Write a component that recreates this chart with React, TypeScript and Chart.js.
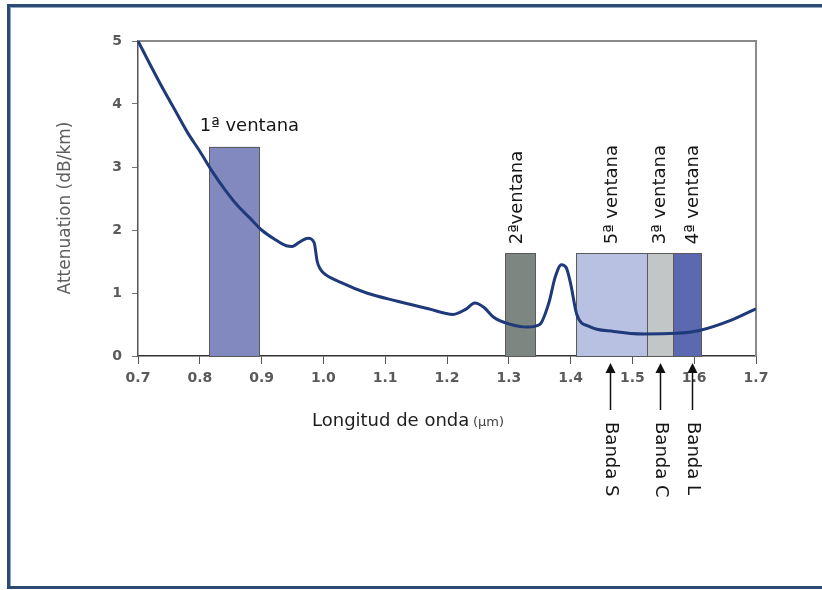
import React, { useEffect, useRef } from "react";
import { Chart, registerables } from "chart.js";

Chart.register(...registerables);

// ---- data ----
const wavelength = [
  0.7, 0.72, 0.74, 0.76, 0.78, 0.8, 0.82, 0.84, 0.86, 0.88, 0.9, 0.92, 0.94, 0.95, 0.96, 0.975,
  0.985, 0.99, 0.995, 1.0, 1.03, 1.07, 1.12, 1.17, 1.21, 1.23, 1.245, 1.26, 1.275, 1.3, 1.33,
  1.35, 1.365, 1.375, 1.385, 1.393, 1.4, 1.41, 1.43, 1.47, 1.52, 1.57, 1.61, 1.66, 1.7,
];
const attenuation = [
  5.0, 4.62, 4.25, 3.9, 3.55, 3.25, 2.93, 2.65, 2.4, 2.2, 2.0, 1.86, 1.75, 1.74, 1.8, 1.87,
  1.8, 1.5, 1.38, 1.32, 1.16, 1.0, 0.87, 0.75, 0.66, 0.74, 0.84, 0.77, 0.62, 0.51, 0.46,
  0.5, 0.85, 1.25, 1.45, 1.4, 1.15, 0.66, 0.47, 0.39, 0.35, 0.36, 0.41, 0.57, 0.75,
];

const xTicks = [0.7, 0.8, 0.9, 1.0, 1.1, 1.2, 1.3, 1.4, 1.5, 1.6, 1.7];
const yTicks = [0, 1, 2, 3, 4, 5];

const windowNames = ["1ª ventana", "2ªventana", "5ª ventana", "3ª ventana", "4ª ventana"];
const windowStart = [0.815, 1.294, 1.409, 1.524, 1.566];
const windowEnd = [0.896, 1.343, 1.524, 1.566, 1.611];
const windowTop = [3.32, 1.63, 1.63, 1.63, 1.63];
const windowLabelAt = [0.8, 1.313, 1.467, 1.546, 1.598];
const windowColors = ["#8189bf", "#7e8682", "#b9c1e3", "#c3c6c6", "#5a69b0"];

const bandNames = ["Banda S", "Banda C", "Banda L"];
const bandAt = [1.464, 1.545, 1.597];

const xTitle = "Longitud de onda";
const xUnit = "(µm)";
const yTitle = "Attenuation (dB/km)";

const FONT = "'DejaVu Sans', 'Liberation Sans', Arial, sans-serif";

const decorPlugin = {
  id: "decor",
  beforeDraw(chart: any) {
    const ctx = chart.ctx;
    ctx.save();
    ctx.fillStyle = "#ffffff";
    ctx.fillRect(0, 0, chart.width, chart.height);
    // frame
    ctx.fillStyle = "#2d4b72";
    ctx.fillRect(7, 4, chart.width - 7, 3);
    ctx.fillRect(7, 4, 3, 585);
    ctx.fillRect(7, 586, chart.width - 7, 3);
    ctx.fillStyle = "#8fa6c4";
    ctx.fillRect(10, 7, chart.width - 10, 1);
    ctx.fillRect(10, 7, 1, 579);
    ctx.restore();
  },
  beforeDatasetsDraw(chart: any) {
    const ctx = chart.ctx;
    const xs = chart.scales.x;
    const ys = chart.scales.y;
    const a = chart.chartArea;
    ctx.save();
    // top and right outline
    ctx.strokeStyle = "#8a8a8a";
    ctx.lineWidth = 2;
    ctx.beginPath();
    ctx.moveTo(a.left, a.top);
    ctx.lineTo(a.right, a.top);
    ctx.lineTo(a.right, a.bottom);
    ctx.stroke();
    // windows
    for (let i = 0; i < windowNames.length; i++) {
      const x0 = xs.getPixelForValue(windowStart[i]);
      const x1 = xs.getPixelForValue(windowEnd[i]);
      const y0 = ys.getPixelForValue(windowTop[i]);
      const y1 = ys.getPixelForValue(0);
      ctx.fillStyle = windowColors[i];
      ctx.fillRect(x0, y0, x1 - x0, y1 - y0);
      ctx.strokeStyle = "#5a5a5a";
      ctx.lineWidth = 1;
      ctx.strokeRect(Math.round(x0) + 0.5, Math.round(y0) + 0.5, Math.round(x1 - x0), Math.round(y1 - y0));
    }
    ctx.restore();
  },
  afterDatasetsDraw(chart: any) {
    const ctx = chart.ctx;
    const xs = chart.scales.x;
    const ys = chart.scales.y;
    const a = chart.chartArea;
    ctx.save();
    ctx.fillStyle = "#161616";
    ctx.font = `18px ${FONT}`;
    // window labels
    for (let i = 0; i < windowNames.length; i++) {
      const lx = xs.getPixelForValue(windowLabelAt[i]);
      const top = ys.getPixelForValue(windowTop[i]);
      if (i === 0) {
        ctx.textAlign = "left";
        ctx.textBaseline = "alphabetic";
        ctx.fillText(windowNames[i], lx, top - 16);
      } else {
        ctx.save();
        ctx.translate(lx, top - 9);
        ctx.rotate(-Math.PI / 2);
        ctx.textAlign = "left";
        ctx.textBaseline = "middle";
        ctx.fillText(windowNames[i], 0, 0);
        ctx.restore();
      }
    }
    // band arrows
    for (let i = 0; i < bandNames.length; i++) {
      const bx = Math.round(xs.getPixelForValue(bandAt[i])) + 0.5;
      const tipY = a.bottom + 7;
      ctx.strokeStyle = "#111";
      ctx.lineWidth = 1.5;
      ctx.beginPath();
      ctx.moveTo(bx, tipY + 8);
      ctx.lineTo(bx, a.bottom + 54);
      ctx.stroke();
      ctx.fillStyle = "#111";
      ctx.beginPath();
      ctx.moveTo(bx, tipY);
      ctx.lineTo(bx - 5, tipY + 10);
      ctx.lineTo(bx + 5, tipY + 10);
      ctx.closePath();
      ctx.fill();
      ctx.save();
      ctx.translate(bx, a.bottom + 66);
      ctx.rotate(Math.PI / 2);
      ctx.textAlign = "left";
      ctx.textBaseline = "middle";
      ctx.fillStyle = "#161616";
      ctx.font = `18px ${FONT}`;
      ctx.fillText(bandNames[i], 0, 0);
      ctx.restore();
    }
    // x title
    ctx.textAlign = "left";
    ctx.textBaseline = "alphabetic";
    ctx.fillStyle = "#1e1e1e";
    ctx.font = `18px ${FONT}`;
    const tx = 312;
    const ty = a.bottom + 70;
    ctx.fillText(xTitle, tx, ty);
    const w = ctx.measureText(xTitle + " ").width;
    ctx.font = `13px ${FONT}`;
    ctx.fillStyle = "#444";
    ctx.fillText(xUnit, tx + w - 2, ty);
    // y title
    ctx.save();
    ctx.translate(66, 208);
    ctx.rotate(-Math.PI / 2);
    ctx.textAlign = "center";
    ctx.textBaseline = "middle";
    ctx.fillStyle = "#5e5e5e";
    ctx.font = `17px ${FONT}`;
    ctx.fillText(yTitle, 0, 0);
    ctx.restore();
    ctx.restore();
  },
};

export default function App() {
  const ref = useRef<HTMLCanvasElement | null>(null);
  useEffect(() => {
    document.body.style.margin = "0";
    const canvas = ref.current;
    if (!canvas) return;
    const chart = new Chart(canvas, {
      type: "line",
      data: {
        datasets: [
          {
            data: wavelength.map((x, i) => ({ x, y: attenuation[i] })),
            borderColor: "#1f3a7a",
            borderWidth: 3,
            pointRadius: 0,
            fill: false,
            cubicInterpolationMode: "monotone",
          },
        ],
      },
      options: {
        animation: false,
        responsive: false,
        devicePixelRatio: 1,
        layout: { padding: { left: 20, top: 41, right: 66, bottom: 194 } },
        plugins: { legend: { display: false }, tooltip: { enabled: false }, title: { display: false } },
        scales: {
          x: {
            type: "linear",
            min: 0.7,
            max: 1.7,
            afterFit: (s: any) => {
              s.height = 40;
            },
            afterBuildTicks: (s: any) => {
              s.ticks = xTicks.map((v) => ({ value: v }));
            },
            ticks: {
              callback: (v: any) => Number(v).toFixed(1),
              color: "#5a5a5a",
              font: { family: FONT, size: 14, weight: "bold" },
              padding: 6,
              maxRotation: 0,
              autoSkip: false,
            },
            grid: { drawOnChartArea: false, drawTicks: true, tickLength: 8, color: "#555", lineWidth: 1 },
            border: { display: true, color: "#333", width: 1.5 },
          },
          y: {
            type: "linear",
            min: 0,
            max: 5,
            afterFit: (s: any) => {
              s.width = 118;
            },
            afterBuildTicks: (s: any) => {
              s.ticks = yTicks.map((v) => ({ value: v }));
            },
            ticks: {
              color: "#5a5a5a",
              font: { family: FONT, size: 14, weight: "bold" },
              padding: 10,
            },
            grid: { drawOnChartArea: false, drawTicks: true, tickLength: 6, color: "#777", lineWidth: 1 },
            border: { display: true, color: "#555", width: 1.5 },
          },
        },
      },
      plugins: [decorPlugin],
    } as any);
    return () => chart.destroy();
  }, []);
  return (
    <div style={{ width: 822, height: 590 }}>
      <canvas ref={ref} width={822} height={590} style={{ display: "block", width: 822, height: 590 }} />
    </div>
  );
}
